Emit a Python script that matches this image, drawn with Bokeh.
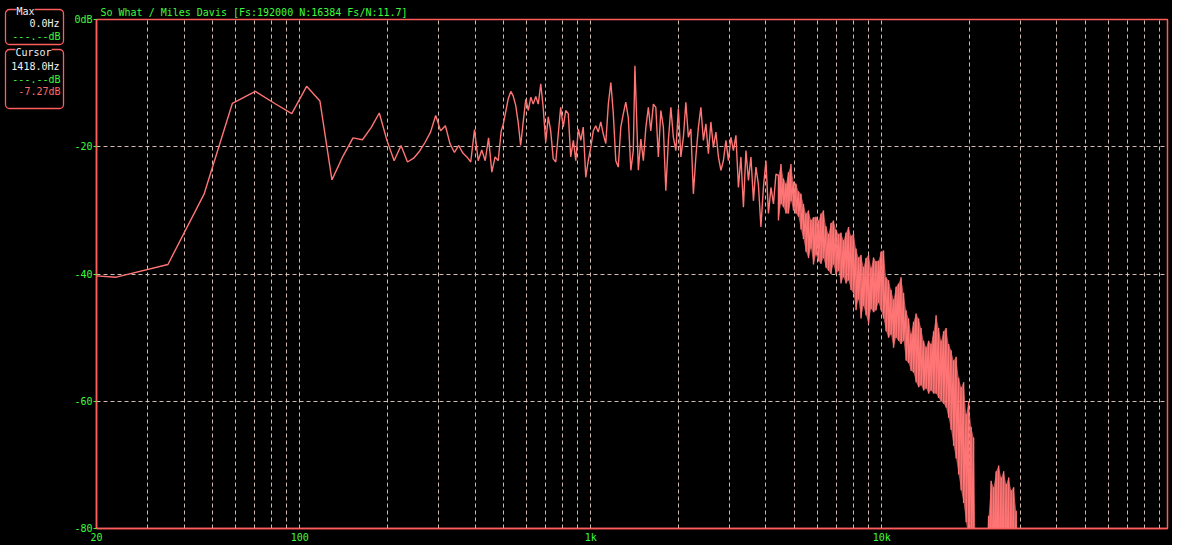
from bokeh.plotting import figure
from bokeh.models import FixedTicker, Label, BoxAnnotation, Range1d
from bokeh.layouts import row
from bokeh.embed import file_html
from bokeh.resources import INLINE

# ---------------- data ----------------
TITLE = "So What / Miles Davis  [Fs:192000 N:16384 Fs/N:11.7]"

# low-frequency FFT bins (Hz) and levels (dB)
low_freq = [11.7, 23.4, 35.2, 46.9, 58.6, 70.3, 82.0, 93.8, 105.5, 117.2,
            128.9, 140.6, 152.3, 164.1, 175.8, 187.5, 199.2, 210.9, 222.7, 234.4,
            246.1, 257.8, 269.5, 281.3, 293.0, 304.7, 316.4, 328.1, 339.8, 351.6,
            363.3, 375.0, 386.7, 398.4, 410.2, 421.9, 433.6, 445.3, 457.0, 468.8,
            480.5, 492.2]
low_db = [-39.6, -40.5, -38.5, -27.4, -13.2, -11.3, -13.2, -14.8, -10.5, -12.8,
          -25.2, -21.5, -18.6, -18.9, -17.0, -14.7, -19.0, -22.2, -19.8, -22.4,
          -21.8, -20.7, -19.3, -17.7, -15.1, -17.5, -16.7, -19.5, -20.9, -19.8,
          -21.0, -21.6, -22.4, -17.3, -22.2, -20.5, -22.2, -18.6, -24.0, -21.6,
          -22.2, -17.5]

# mid band, single trace (Hz / dB)
mid_freq = [500, 510, 520, 531, 541, 552, 563, 574, 586, 598,
            610, 622, 634, 647, 660, 673, 686, 700, 714, 728,
            743, 758, 773, 788, 804, 820, 837, 853, 871, 888,
            906, 924, 942, 961, 980,
            1000, 1020, 1040, 1061, 1082, 1104, 1126, 1149, 1172, 1195,
            1219, 1243, 1268, 1294, 1319, 1346, 1373, 1400, 1418, 1457,
            1486, 1516, 1546, 1577, 1608, 1641, 1673, 1707, 1741, 1776,
            1811, 1848, 1885, 1922, 1961,
            2000, 2040, 2081, 2122, 2165, 2208, 2252, 2297, 2343, 2390,
            2438, 2487, 2536, 2587, 2639, 2692, 2746, 2801, 2856, 2914,
            2972, 3031, 3092, 3154, 3217, 3281, 3347, 3414, 3482, 3552,
            3623, 3695, 3769, 3844, 3921,
            4000, 4080, 4162, 4245, 4330]
mid_db = [-16.5, -14.5, -12.5, -11.3, -12.0, -13.5, -16.2, -19.8, -16.0, -12.5,
          -14.3, -12.2, -13.3, -12.1, -13.3, -10.1, -13.8, -19.3, -15.3, -17.5,
          -21.9, -22.4, -18.0, -13.8, -16.9, -14.3, -14.8, -21.6, -19.0, -22.2,
          -17.2, -19.0, -16.9, -24.8, -22.2, -20.1, -17.5, -16.7, -17.7, -16.1,
          -18.0, -19.5, -13.3, -9.9, -14.8, -22.2, -23.2, -16.9, -14.8, -13.0,
          -15.5, -23.7, -20.6, -7.27, -23.7, -18.8, -22.2, -17.0, -13.8, -17.5,
          -13.3, -13.8, -21.6, -14.3, -16.9, -26.9, -19.0, -13.8, -18.5, -20.6,
          -14.0, -21.6, -18.5, -13.0, -18.5, -17.2, -27.4, -21.6, -17.0, -13.8,
          -19.0, -16.4, -21.1, -16.1, -20.1, -17.7, -21.6, -23.7, -22.2, -19.0,
          -22.2, -18.5, -20.6, -18.2, -26.4, -21.6, -29.5, -20.6, -25.3, -21.6,
          -28.5, -23.2, -26.0, -32.6, -26.4, -22.2, -30.5, -26.4, -29.0, -24.3]

# high band: dense spectrum, upper and lower extent at each frequency
band_freq = [4416, 4505, 4595, 4687, 4780, 4876, 4973, 5073, 5174, 5278,
             5383, 5491, 5601, 5713, 5827, 5944, 6062, 6184, 6307, 6434,
             6562, 6694, 6827, 6964, 7103, 7245, 7390, 7538, 7689, 7842,
             8000, 8160, 8323, 8490, 8659, 8832, 9010, 9190, 9373, 9561,
             9752, 9947, 10146, 10349, 10556, 10767, 10982, 11202, 11426, 11654,
             11888, 12125, 12368, 12614, 12867, 13125, 13389, 13654, 13928, 14206,
             14490, 14781, 15077, 15378, 15686,
             16000, 16320, 16646, 16979, 17318, 17664, 18019, 18381, 18746, 19121,
             19504, 19894, 20293, 20698, 21112, 21534, 21965, 22405, 22853, 23309,
             23776, 24251, 24736, 25229, 25734, 26250, 26778, 27309, 27856, 28413,
             28979, 29562, 30154, 30755, 31373]
band_top = [-24.5, -22.7, -25.0, -25.8, -24.0, -22.7, -25.5, -25.8, -27.0, -27.4,
            -29.0, -30.5, -30.0, -31.5, -31.1, -31.0, -31.6, -30.5, -30.0, -32.5,
            -33.7, -32.0, -31.6, -33.0, -33.7, -33.5, -34.7, -33.5, -32.6, -34.0,
            -33.7, -36.0, -37.4, -37.0, -38.9, -37.5, -37.0, -39.0, -37.4, -38.0,
            -37.9, -36.5, -36.3, -40.5, -41.0, -42.5, -44.0, -42.0, -41.5, -40.5,
            -43.0, -45.7, -47.0, -49.4, -47.5, -46.2, -47.0, -48.5, -50.5, -51.5,
            -50.5, -51.0, -49.0, -46.5, -48.5, -50.5, -49.0, -48.5, -51.0, -52.0,
            -53.6, -53.0, -56.3, -57.8, -57.0, -62.0, -60.0, -64.0, -65.7, -88.0,
            -95.0, -95.0, -95.0, -92.0, -78.0, -72.5, -73.5, -71.0, -70.1, -72.0,
            -71.0, -73.0, -72.0, -74.0, -73.5, -77.2, -84.0, -95.0, -95.0, -95.0]
band_bot = [-31.6, -29.0, -29.5, -30.5, -30.5, -28.5, -30.0, -30.5, -31.0, -33.0,
            -34.5, -36.5, -37.5, -36.0, -38.5, -37.0, -38.0, -38.4, -37.5, -39.0,
            -39.5, -40.0, -38.5, -40.0, -39.5, -41.5, -40.5, -41.5, -41.0, -42.5,
            -43.0, -45.7, -44.0, -47.0, -45.0, -46.5, -47.8, -45.5, -46.0, -45.7,
            -44.5, -45.7, -47.0, -49.0, -50.0, -49.5, -51.6, -50.0, -50.5, -51.0,
            -50.5, -53.6, -54.0, -55.2, -55.5, -57.0, -57.8, -57.5, -58.3, -58.0,
            -58.8, -58.3, -58.8, -58.8, -59.5, -60.0, -60.4, -61.0, -62.6, -64.5,
            -67.0, -69.0, -71.5, -74.0, -76.0, -79.0, -82.0, -85.0, -90.0, -95.0,
            -95.0, -95.0, -95.0, -95.0, -92.0, -90.0, -90.0, -90.0, -90.0, -90.0,
            -90.0, -90.0, -90.0, -90.0, -90.0, -90.0, -95.0, -95.0, -95.0, -95.0]

x_tick_values = [20, 100, 1000, 10000]
x_tick_labels = ["20", "100", "1k", "10k"]
y_tick_values = [-80, -60, -40, -20, 0]
y_tick_labels = ["-80", "-60", "-40", "-20", "0dB"]
grid_freqs = [30, 40, 50, 60, 70, 80, 90,
              100, 200, 300, 400, 500, 600, 700, 800, 900,
              1000, 2000, 3000, 4000, 5000, 6000, 7000, 8000, 9000,
              10000, 20000, 30000, 40000, 50000, 60000, 70000, 80000, 90000]

# readout panel texts
max_freq_text = "0.0Hz"
max_level_text = "---.--dB"
cursor_freq_text = "1418.0Hz"
cursor_level_text = "---.--dB"
cursor_level2_text = "-7.27dB"

# ---------------- styling ----------------
RED = "#ff5c5c"
CURVE = "#ff7474"
GREEN = "#3cfc3c"
WHITE = "#f2f2f2"
GRID = "#e8cfc4"
MONO = "DejaVu Sans Mono"
H = 545
PANEL_W = 66

# ---------------- main spectrum figure ----------------
p = figure(width=1172 - PANEL_W, height=H, x_axis_type="log",
           x_range=Range1d(20, 96000), y_range=Range1d(-80, 0),
           output_backend="svg", toolbar_location=None,
           min_border_left=30, min_border_right=5, min_border_top=19, min_border_bottom=17,
           background_fill_color="black", border_fill_color="black",
           outline_line_color=RED, outline_line_width=1.5, frame_align=False)

p.title.text = TITLE
p.title.text_color = GREEN
p.title.text_font = MONO
p.title.text_font_size = "10px"
p.title.text_font_style = "normal"
p.title.align = "left"
p.title.offset = 4
p.title.standoff = 3

# grid
p.xgrid.ticker = FixedTicker(ticks=grid_freqs)
p.ygrid.ticker = FixedTicker(ticks=[-60, -40, -20])
for g in (p.xgrid, p.ygrid):
    g.grid_line_color = GRID
    g.grid_line_dash = "4 3"
    g.grid_line_width = 1
    g.grid_line_alpha = 0.9

# axes
p.xaxis.ticker = FixedTicker(ticks=x_tick_values, minor_ticks=[])
p.xaxis.major_label_overrides = dict(zip(x_tick_values, x_tick_labels))
p.yaxis.ticker = FixedTicker(ticks=y_tick_values, minor_ticks=[])
p.yaxis.major_label_overrides = dict(zip(y_tick_values, y_tick_labels))
for ax in (p.xaxis, p.yaxis):
    ax.axis_line_color = RED
    ax.axis_line_width = 1.5
    ax.major_label_text_color = GREEN
    ax.major_label_text_font = MONO
    ax.major_label_text_font_size = "10px"
    ax.minor_tick_line_color = None
p.xaxis.major_tick_line_color = None
p.xaxis.major_tick_out = 0
p.xaxis.major_tick_in = 0
p.xaxis.major_label_standoff = 3
p.yaxis.major_tick_line_color = GREEN
p.yaxis.major_tick_out = 3
p.yaxis.major_tick_in = 0
p.yaxis.major_label_standoff = 1

# spectrum: dense upper band filled between its extents, then the trace
p.varea(x=band_freq, y1=band_bot, y2=band_top, fill_color=CURVE, fill_alpha=0.7)
band_f, band_v = [], []
for f, t, b in zip(band_freq, band_top, band_bot):
    band_f += [f, f]
    band_v += [t, b]
freq_all = low_freq + mid_freq + band_f
db_all = low_db + mid_db + band_v
p.line(freq_all, db_all, line_color=CURVE, line_width=1.4)

# ---------------- left readout panel ----------------
panel = figure(width=PANEL_W, height=H, x_range=Range1d(0, PANEL_W), y_range=Range1d(0, H),
               output_backend="svg", toolbar_location=None,
               x_axis_location=None, y_axis_location=None,
               min_border=0, min_border_left=0, min_border_right=0,
               min_border_top=0, min_border_bottom=0,
               background_fill_color="black", border_fill_color="black",
               outline_line_color=None, frame_align=False)
panel.xgrid.visible = False
panel.ygrid.visible = False


def box(left, right, bottom, top):
    panel.add_layout(BoxAnnotation(left=left, right=right, bottom=bottom, top=top,
                                   fill_color=None, fill_alpha=0, line_color=RED,
                                   line_alpha=1.0, line_width=1.3, border_radius=4))


def txt(x, y, s, color, align="right", bg=None):
    panel.add_layout(Label(x=x, y=y, text=s, text_color=color, text_font=MONO,
                           text_font_size="10px", text_baseline="middle",
                           text_align=align, background_fill_color=bg))


box(5, 63, H - 44, H - 9)
txt(16, H - 11, "Max", WHITE, align="left", bg="black")
txt(59, H - 23, max_freq_text, WHITE)
txt(60, H - 36, max_level_text, GREEN)

box(5, 63, H - 108, H - 49)
txt(15, H - 52, "Cursor", WHITE, align="left", bg="black")
txt(59, H - 66, cursor_freq_text, WHITE)
txt(60, H - 79, cursor_level_text, GREEN)
txt(60, H - 91, cursor_level2_text, "#ff6a6a")

layout = row(panel, p, styles={"background-color": "black"})
open("out.html", "w").write(file_html(layout, INLINE))
